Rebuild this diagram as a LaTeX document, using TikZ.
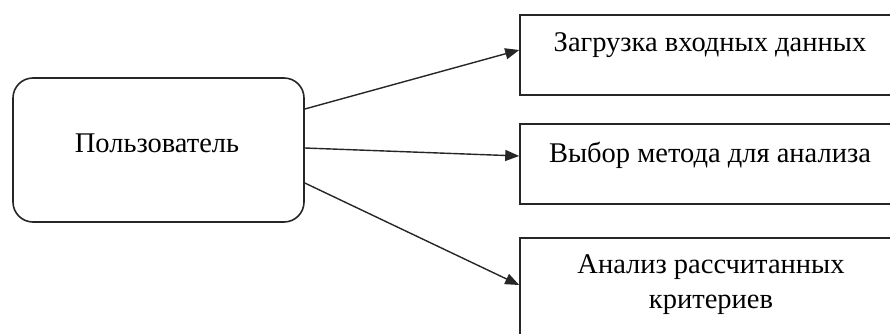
\documentclass[tikz,border=0pt]{standalone}
\usepackage{fontspec}
\setmainfont{Liberation Serif}
\usetikzlibrary{arrows.meta,calc}
\begin{document}
\begin{tikzpicture}[x=1pt,y=-1pt,
  shapebox/.style={draw=black!85,line width=1.6pt,fill=white,inner sep=0pt},
  userbox/.style={shapebox,rounded corners=20pt,minimum width=291pt,minimum height=144pt},
  taskbox/.style={shapebox,minimum width=380pt,minimum height=80pt},
  lbl/.style={font=\fontsize{28.5}{35}\selectfont,inner sep=0pt,align=center,anchor=base},
  conn/.style={draw=black!85,line width=1.4pt,-{Triangle[length=14pt,width=11pt]}}]
\useasboundingbox (0,0) rectangle (890,334);
\node[userbox] (u) at (158.5,150) {};
\node[lbl] (ut) at (157,152) {Пользователь};
\node[taskbox] (b1) at (710,55) {};
\node[lbl] (t1) at (710,52) {Загрузка входных данных};
\node[taskbox] (b2) at (710,164) {};
\node[lbl] (t2) at (710,162) {Выбор метода для анализа};
\node[taskbox,minimum height=110pt] (b3) at (710,293) {};
\node[lbl] (t3) at (711,308) {Анализ рассчитанных\\критериев};
\draw[conn] ([yshift=41pt]u.east) -- ([yshift=5pt]b1.west);
\draw[conn] ([yshift=2pt]u.east) -- ([yshift=8pt]b2.west);
\draw[conn] ([yshift=-33pt]u.east) -- ([yshift=8pt]b3.west);
\end{tikzpicture}
\end{document}
